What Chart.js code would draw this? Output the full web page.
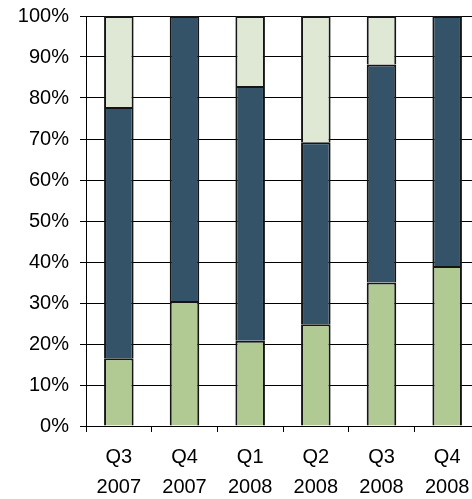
<!DOCTYPE html>
<html>
<head>
<meta charset="utf-8">
<script src="https://cdn.jsdelivr.net/npm/chart.js"></script>
<style>
  html, body { margin: 0; padding: 0; background: #fff; overflow: hidden; }
  #wrap { width: 472px; height: 499px; overflow: hidden; }
</style>
</head>
<body>
<div id="wrap"><canvas id="c" width="500" height="499"></canvas></div>
<script>
const quarters = [['Q3', '2007'], ['Q4', '2007'], ['Q1', '2008'], ['Q2', '2008'], ['Q3', '2008'], ['Q4', '2008']];
const lowShare = [16.5, 30.5, 20.8, 24.8, 35.0, 39.0];
const midShare = [61.3, 69.5, 62.1, 44.4, 53.2, 61.0];
const topShare = [22.2, 0, 17.1, 30.8, 11.8, 0];
const yTicks = [0, 10, 20, 30, 40, 50, 60, 70, 80, 90, 100];

const family = "'Liberation Sans', Arial, sans-serif";

const series = [
  { data: lowShare, backgroundColor: '#b1c992' },
  { data: midShare, backgroundColor: '#345268' },
  { data: topShare, backgroundColor: '#dfe8d4' }
].map(s => Object.assign(s, {
  borderColor: '#151515', borderWidth: 2,
  categoryPercentage: 1, barPercentage: 0.45
}));

new Chart(document.getElementById('c'), {
  type: 'bar',
  data: { labels: quarters, datasets: series },
  options: {
    responsive: false, animation: false, devicePixelRatio: 1,
    layout: { padding: { top: 16, right: 20, bottom: 0, left: 0 } },
    plugins: { legend: { display: false }, tooltip: { enabled: false } },
    scales: {
      x: {
        stacked: true,
        grid: { drawOnChartArea: false, color: '#000', tickLength: 6, offset: true },
        border: { color: '#000', width: 1 },
        ticks: { color: '#000', font: { family, size: 20, lineHeight: 1.5 }, padding: 10, maxRotation: 0 },
        afterFit: s => { s.height = 73; s.paddingLeft = 0; s.paddingRight = 0; }
      },
      y: {
        stacked: true, min: 0, max: 100,
        afterBuildTicks: s => { s.ticks = yTicks.map(v => ({ value: v })); },
        grid: { color: '#000', tickLength: 6 },
        border: { color: '#000', width: 1 },
        ticks: { color: '#000', font: { family, size: 20, lineHeight: 1 }, padding: 11, callback: v => v + '%' },
        afterFit: s => { s.width = 86; s.paddingTop = 0; s.paddingBottom = 0; }
      }
    }
  }
});
</script>
</body>
</html>
